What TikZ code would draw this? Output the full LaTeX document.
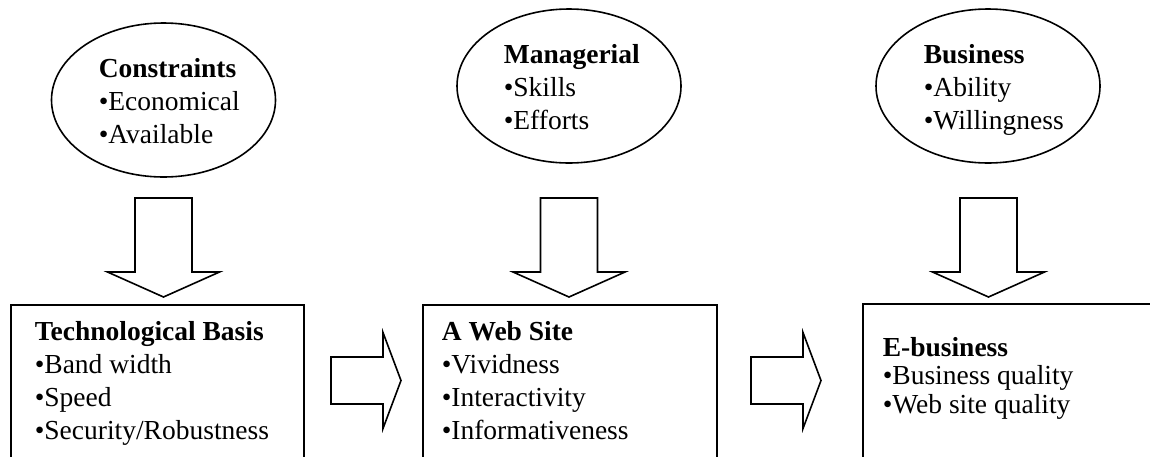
\documentclass[tikz,border=0pt]{standalone}
\usepackage{fontspec}
\setmainfont{Liberation Serif}
\usetikzlibrary{shapes.geometric,calc}

\begin{document}
\begin{tikzpicture}[x=1pt,y=-1pt,line width=1.6pt,
    factor/.style={ellipse,draw,minimum width=224pt,minimum height=154pt,inner sep=0pt},
    stage/.style={rectangle,draw,anchor=north west,minimum height=220pt,inner sep=0pt},
    items/.style={align=left,anchor=base west,inner sep=0pt,font=\fontsize{27.5}{33}\selectfont},
    fatarrow/.style n args={3}{to path={let \p1=(\tikztostart), \p2=(\tikztotarget),
        \p3=($(\p2)!#3!(\p1)$) in
        ($(\p1)!#1!90:(\p2)$) -- ($(\p3)!#1!90:(\p2)$) -- ($(\p3)!#2!90:(\p2)$)
        -- (\p2) -- ($(\p3)!#2!-90:(\p2)$) -- ($(\p3)!#1!-90:(\p2)$)
        -- ($(\p1)!#1!-90:(\p2)$) -- cycle}}]

\useasboundingbox (0,0) rectangle (1150,456);
\clip (0,0) rectangle (1150,456);

% Influencing factors
\node[factor] (cons) at (163.5,100) {};
\node[factor] (mgmt) at (569,86) {};
\node[factor] (biz) at (988,86) {};

% text blocks sit on the baseline of their last line
\node[items] (constext) at (98,143) {\textbf{Constraints}\\•Economical\\•Available};
\node[items] (mgmttext) at (503,129) {\textbf{Managerial}\\•Skills\\•Efforts};
\node[items] (biztext) at (923,129) {\textbf{Business}\\•Ability\\•Willingness};

% Stages, open at the bottom
\node[stage,minimum width=293pt] (techbox) at (10,304) {};
\node[stage,minimum width=294pt] (webbox) at (422,304) {};
\node[stage,minimum width=330pt] (ebizbox) at (862,303) {};

\node[items] (techtext) at (34,439)
    {\textbf{Technological Basis}\\•Band width\\•Speed\\•Security/Robustness};
\node[items] (webtext) at (441,439)
    {\textbf{A Web Site}\\•Vividness\\•Interactivity\\•Informativeness};
\node[items,font=\fontsize{27.5}{28.5}\selectfont] (ebiztext) at (882,413)
    {\textbf{E-business}\\•Business quality\\•Web site quality};

% Arrow ends
\coordinate (cons-out) at (163.5,198);
\coordinate (tech-in) at (163.5,297);
\coordinate (mgmt-out) at (569,198);
\coordinate (web-in) at (569,297);
\coordinate (biz-out) at (988.5,198);
\coordinate (ebiz-in) at (988.5,297);
\coordinate (tech-out) at (331,380.5);
\coordinate (web-left) at (401,380.5);
\coordinate (web-out) at (751,380.5);
\coordinate (ebiz-left) at (821,380.5);

% Block arrows
\draw (cons-out) to[fatarrow={28.5pt}{56pt}{25pt}] (tech-in);
\draw (mgmt-out) to[fatarrow={28.5pt}{56pt}{25pt}] (web-in);
\draw (biz-out) to[fatarrow={28.5pt}{56pt}{25pt}] (ebiz-in);
\draw (tech-out) to[fatarrow={23.5pt}{48pt}{18pt}] (web-left);
\draw (web-out) to[fatarrow={23.5pt}{48pt}{18pt}] (ebiz-left);

\end{tikzpicture}
\end{document}
